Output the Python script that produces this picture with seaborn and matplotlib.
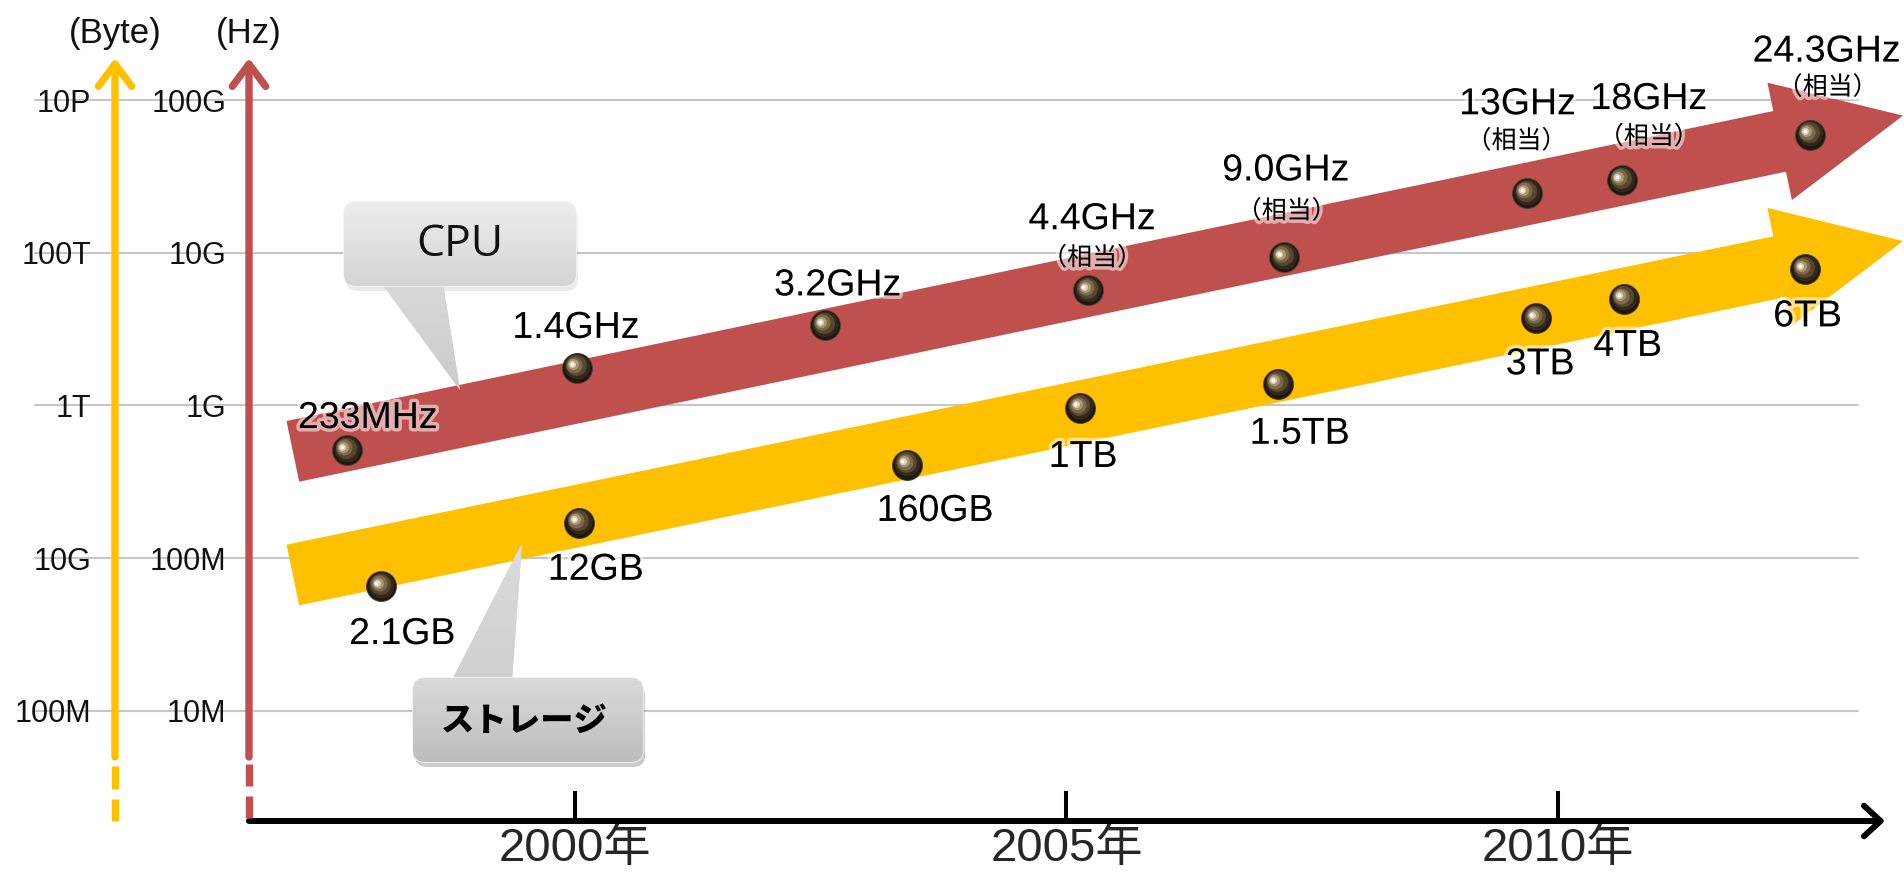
import numpy as np
import pandas as pd
import matplotlib
matplotlib.use('Agg')
import matplotlib.pyplot as plt
import matplotlib.patheffects as pe
from matplotlib.patches import Polygon, FancyBboxPatch
from matplotlib.colors import LinearSegmentedColormap
from matplotlib.ticker import NullLocator
from matplotlib.transforms import offset_copy
import seaborn as sns

# ---- data ----
cpu_year = [1997.68, 2000.02, 2002.54, 2005.22, 2007.21, 2009.68, 2010.65, 2012.56]
cpu_hz = [5.1e8, 1.76e9, 3.34e9, 5.68e9, 9.31e9, 2.45e10, 2.99e10, 5.94e10]
cpu_label = ['233MHz', '1.4GHz', '3.2GHz', '4.4GHz', '9.0GHz', '13GHz', '18GHz', '24.3GHz']
cpu_note = ['', '', '', '（相当）', '（相当）', '（相当）', '（相当）', '（相当）']

sto_year = [1998.03, 2000.04, 2003.38, 2005.14, 2007.15, 2009.78, 2010.67, 2012.51]
sto_bytes = [4.3e9, 2.9e10, 1.66e11, 9.25e11, 1.92e12, 1.38e13, 2.48e13, 6.05e13]
sto_label = ['2.1GB', '12GB', '160GB', '1TB', '1.5TB', '3TB', '4TB', '6TB']

trend_year = [1997.13, 2013.51]
cpu_trend_hz = [5.0e8, 7.9e10]
sto_trend_bytes = [6.0e9, 1.42e14]

hz_ticks = [1e7, 1e8, 1e9, 1e10, 1e11]
hz_tick_labels = ['10M', '100M', '1G', '10G', '100G']
byte_ticks = [1e8, 1e10, 1e12, 1e14, 1e16]
byte_tick_labels = ['100M', '10G', '1T', '100T', '10P']
year_ticks = [2000, 2005, 2010]
year_tick_labels = ['2000年', '2005年', '2010年']

# label offsets (pixels, right / down) from each dot
cpu_off = [(21, -32), (-1, -40), (13, -40), (4, -71), (2, -87), (-9, -89), (27, -81), (17, -83)]
cpu_note_off = [None, None, None, (4, -32), (3, -46), (-10, -52), (27, -43), (18, -47)]
sto_off = [(21, 48), (17, 47), (28, 46), (3, 49), (22, 50), (4, 46), (4, 47), (3, 47)]

RED = '#C0504D'
YELLOW = '#FFC000'

sns.set_theme(style='white')
plt.rcParams['font.family'] = ['Liberation Sans', 'Noto Sans CJK JP']

W, H = 1904, 872
fig = plt.figure(figsize=(W / 100, H / 100), dpi=100)
fig.patch.set_facecolor('white')

L_px, R_px, B_px, T_px = 249, 1885, 821, 40
ax = fig.add_axes([L_px / W, 1 - B_px / H, (R_px - L_px) / W, (B_px - T_px) / H])
ax.set_yscale('log')
ax.set_xlim(1996.684, 2013.327)
ax.set_ylim(10 ** 6.278, 10 ** 11.393)
ax2 = ax.twinx()
ax2.set_yscale('log')
ax2.set_ylim(10 ** (2 * 6.278 - 6), 10 ** (2 * 11.393 - 6))

for a in (ax, ax2):
    a.grid(False)
    for s in a.spines.values():
        s.set_visible(False)
    a.yaxis.set_minor_locator(NullLocator())
    a.xaxis.set_minor_locator(NullLocator())

ax.set_yticks(hz_ticks, hz_tick_labels)
ax.tick_params(axis='y', length=0, pad=16.5, labelsize=22, labelcolor='#111111')
ax2.set_yticks(byte_ticks, byte_tick_labels)
ax2.yaxis.tick_left()
ax2.spines['left'].set_position(('outward', 96.5))
ax2.tick_params(axis='y', length=0, pad=17, labelsize=22, labelcolor='#111111')
ax2.tick_params(axis='y', which='both', right=False, labelright=False)

ax.set_xticks(year_ticks, year_tick_labels)
ax.tick_params(axis='x', direction='in', length=21.6, width=2.9, color='black',
               pad=4, labelsize=34, bottom=True)

# grid lines
for t in hz_ticks:
    ax.axhline(t, xmin=(35 - L_px) / (R_px - L_px), xmax=(1858 - L_px) / (R_px - L_px),
               color='#c6c6c6', lw=1.5, clip_on=False, zorder=0.5)

# x axis arrow
ax.annotate('', xy=(1, 0), xytext=(0, 0), xycoords='axes fraction', textcoords='axes fraction',
            arrowprops=dict(arrowstyle='->,head_length=12,head_width=11', mutation_scale=1,
                            lw=4.3, color='black', shrinkA=0, shrinkB=0),
            annotation_clip=False, zorder=3)


# big trend arrows
def trend_arrow(trans, ty, color):
    p0, p1 = trans.transform(np.column_stack([trend_year, ty]))
    d = (p1 - p0) / np.hypot(*(p1 - p0))
    n = np.array([-d[1], d[0]])
    back = p1 - 126 * d
    pts = [p0 + 31 * n, back + 31 * n, back + 60 * n, p1, back - 60 * n, back - 31 * n, p0 - 31 * n]
    verts = ax.transData.inverted().transform(np.array(pts))
    ax.add_patch(Polygon(verts, closed=True, facecolor=color, edgecolor='none',
                         zorder=2, clip_on=False))


trend_arrow(ax.transData, cpu_trend_hz, RED)
trend_arrow(ax2.transData, sto_trend_bytes, YELLOW)

cpu_df = pd.DataFrame({'year': cpu_year, 'value': cpu_hz})
sto_df = pd.DataFrame({'year': sto_year, 'value': sto_bytes})

# shaded sphere: stacked discs moving toward the upper-left highlight
sphere_layers = [(26, '#32281a', 0, 1.5), (21, '#574631', -1, 2.5), (16, '#7e6a49', -2.5, 3),
                 (11, '#a99672', -3.5, 3.5), (7, '#dcd0b8', -4.5, 3.5), (3.5, '#ffffff', -5, 3.5)]

glow = [pe.withStroke(linewidth=5, foreground='white', alpha=0.55)]


def spheres(a, df):
    sns.scatterplot(data=df, x='year', y='value', ax=a, s=30 ** 2 * 0.5184, color='#1e170d',
                    edgecolor='#4a4336', linewidth=0.6, zorder=4, legend=False)
    for size, col, dx, dy in sphere_layers:
        tr = offset_copy(a.transData, fig=fig, x=dx, y=dy, units='dots')
        a.scatter(df['year'], df['value'], s=(size * 0.72) ** 2, color=col, linewidth=0,
                  transform=tr, zorder=4.5)


spheres(ax, cpu_df)
spheres(ax2, sto_df)
for a in (ax, ax2):
    a.set_xlabel('')
    a.set_ylabel('')

for x, y, lab, off, note, noff in zip(cpu_year, cpu_hz, cpu_label, cpu_off, cpu_note, cpu_note_off):
    ax.annotate(lab, (x, y), xytext=(off[0] * 0.72, -off[1] * 0.72), textcoords='offset points',
                ha='center', va='center', fontsize=27, color='black', path_effects=glow, zorder=6)
    if note:
        ax.annotate(note, (x, y), xytext=(noff[0] * 0.72, -noff[1] * 0.72), textcoords='offset points',
                    ha='center', va='center', fontsize=18, color='black',
                    family=['Noto Sans CJK JP'], path_effects=glow, zorder=6)

for x, y, lab, off in zip(sto_year, sto_bytes, sto_label, sto_off):
    ax2.annotate(lab, (x, y), xytext=(off[0] * 0.72, -off[1] * 0.72), textcoords='offset points',
                 ha='center', va='center', fontsize=27, color='black', path_effects=glow, zorder=6)

# decoration layer in pixel coordinates
deco = fig.add_axes([0, 0, 1, 1], zorder=5)
deco.patch.set_alpha(0)
deco.axis('off')

# left value axes
for x, c, dashes in [(115, YELLOW, [(766, 789), (799, 821)]), (249, RED, [(764, 786), (796, 818)])]:
    deco.annotate('', xy=(x, 58), xytext=(x, 757),
                  arrowprops=dict(arrowstyle='->,head_length=16,head_width=12', mutation_scale=1,
                                  lw=5.3, color=c, shrinkA=0, shrinkB=0))
    for a0, b0 in dashes:
        deco.plot([x, x], [a0, b0], color=c, lw=5.3, solid_capstyle='butt')

deco.text(115, 33, '(Byte)', ha='center', va='center', fontsize=25, color='#111111')
deco.text(249, 33, '(Hz)', ha='center', va='center', fontsize=25, color='#111111')


def gradient_fill(patch, x0, x1, y0, y1, c_top, c_bot, z):
    cmap = LinearSegmentedColormap.from_list('g', [c_top, c_bot])
    im = deco.imshow(np.linspace(0, 1, 256).reshape(-1, 1), cmap=cmap, extent=(x0, x1, y1, y0),
                     aspect='auto', zorder=z, interpolation='bilinear')
    im.set_clip_path(patch)


def callout(box, tail, c_top, c_bot, t_top, t_bot, shadow_alpha):
    x0, y0, x1, y1 = box
    sh = FancyBboxPatch((x0 + 2, y0 + 5), x1 - x0, y1 - y0, boxstyle='round,pad=0,rounding_size=12',
                        fc='black', ec='none', alpha=shadow_alpha, zorder=1)
    deco.add_patch(sh)
    tp = Polygon(tail, closed=True, fc=t_bot, ec='none', zorder=2)
    deco.add_patch(tp)
    ty = [p[1] for p in tail]
    tx = [p[0] for p in tail]
    gradient_fill(tp, min(tx), max(tx), min(ty), max(ty), t_top, t_bot, 2.1)
    bp = FancyBboxPatch((x0, y0), x1 - x0, y1 - y0, boxstyle='round,pad=0,rounding_size=12',
                        fc=c_bot, ec='#f4f4f4', lw=1.2, zorder=3)
    deco.add_patch(bp)
    gradient_fill(bp, x0, x1, y0, y1, c_top, c_bot, 3.1)


callout((344, 202, 576, 286), [(382, 284), (443, 284), (460, 390)],
        '#eeeeee', '#d4d4d4', '#d9d9d9', '#cbcbcb', 0.08)
deco.text(460, 245, 'CPU', ha='center', va='center', fontsize=32, family=['Open Sans'],
          color='#111111', zorder=4)

callout((413, 678, 643, 762), [(452, 680), (512, 680), (522, 543)],
        '#dadada', '#bdbdbd', '#dcdcdc', '#cfcfcf', 0.2)
deco.text(524, 720, 'ストレージ', ha='center', va='center', fontsize=24, fontweight='heavy',
          family=['Noto Sans CJK JP'], color='black', zorder=4)

deco.set_xlim(0, W)
deco.set_ylim(H, 0)

fig.savefig('out.png', dpi=100)
